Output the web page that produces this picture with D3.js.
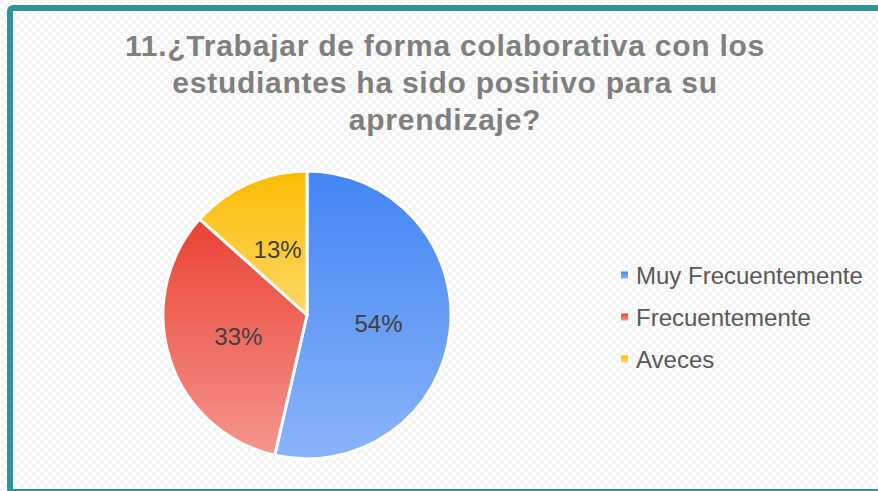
<!DOCTYPE html>
<html>
<head>
<meta charset="utf-8">
<script src="https://cdn.jsdelivr.net/npm/d3@7"></script>
<style>
  html, body { margin: 0; padding: 0; background: #fff; }
  svg { display: block; font-family: 'Liberation Sans', Arial, sans-serif; }
</style>
</head>
<body>
<div id="chart"></div>
<script>
const titleLines = [
  '11.¿Trabajar de forma colaborativa con los',
  'estudiantes ha sido positivo para su',
  'aprendizaje?'
];
const categories = ['Muy Frecuentemente', 'Frecuentemente', 'Aveces'];
const values = [53.6, 33, 13.4];
const topColors = ['#4285f4', '#ea4335', '#fbbc04'];
const bottomColors = ['#8ab4f8', '#f4958d', '#fdd866'];

const width = 878, height = 491;
const cx = 307, cy = 315, radius = 144;

const svg = d3.select('#chart').append('svg')
  .attr('width', width)
  .attr('height', height);

const defs = svg.append('defs');

// transparent-grid background
const pat = defs.append('pattern')
  .attr('id', 'checker')
  .attr('width', 8).attr('height', 8)
  .attr('patternUnits', 'userSpaceOnUse');
pat.append('rect').attr('width', 8).attr('height', 8).attr('fill', '#ffffff');
pat.append('rect').attr('width', 4).attr('height', 4).attr('fill', '#f3f3f3');
pat.append('rect').attr('x', 4).attr('y', 4).attr('width', 4).attr('height', 4).attr('fill', '#f3f3f3');

svg.append('rect')
  .attr('width', width).attr('height', height)
  .attr('fill', 'url(#checker)');

// frame
svg.append('rect')
  .attr('x', 10).attr('y', 8)
  .attr('width', width + 20).attr('height', 484)
  .attr('rx', 3)
  .attr('fill', 'none')
  .attr('stroke', '#31949a')
  .attr('stroke-width', 6);

// gradients per slice
categories.forEach((c, i) => {
  const g = defs.append('linearGradient')
    .attr('id', 'grad' + i)
    .attr('x1', 0).attr('y1', 0).attr('x2', 0).attr('y2', 1);
  g.append('stop').attr('offset', '0%').attr('stop-color', topColors[i]);
  g.append('stop').attr('offset', '100%').attr('stop-color', bottomColors[i]);
});

// title
svg.append('text')
  .attr('text-anchor', 'middle')
  .attr('fill', '#7f7f7f')
  .attr('font-weight', 'bold')
  .attr('font-size', 30)
  .attr('letter-spacing', 0.75)
  .selectAll('tspan')
  .data(titleLines)
  .join('tspan')
  .attr('x', 445)
  .attr('y', (d, i) => 56 + i * 37)
  .text(d => d);

// pie
const pie = d3.pie().sort(null).value(d => d);
const arcs = pie(values);
const arc = d3.arc().innerRadius(0).outerRadius(radius);

const g = svg.append('g').attr('transform', `translate(${cx},${cy})`);

g.selectAll('path')
  .data(arcs)
  .join('path')
  .attr('d', arc)
  .attr('fill', (d, i) => `url(#grad${i})`)
  .attr('stroke', '#ffffff')
  .attr('stroke-width', 3)
  .attr('stroke-linejoin', 'round');

g.selectAll('text')
  .data(arcs)
  .join('text')
  .attr('transform', d => `translate(${arc.centroid(d)})`)
  .attr('text-anchor', 'middle')
  .attr('dy', '0.35em')
  .attr('font-size', 24)
  .attr('fill', '#404040')
  .text(d => Math.round(d.data) + '%');

// legend
const legend = svg.append('g').attr('transform', 'translate(621,275)');
const rows = legend.selectAll('g')
  .data(categories)
  .join('g')
  .attr('transform', (d, i) => `translate(0,${i * 42})`);

rows.append('rect')
  .attr('x', 0).attr('y', -3.5)
  .attr('width', 7).attr('height', 7)
  .attr('fill', (d, i) => `url(#grad${i})`);

rows.append('text')
  .attr('x', 15)
  .attr('y', 8.5)
  .attr('font-size', 24)
  .attr('fill', '#595959')
  .text(d => d);
</script>
</body>
</html>
